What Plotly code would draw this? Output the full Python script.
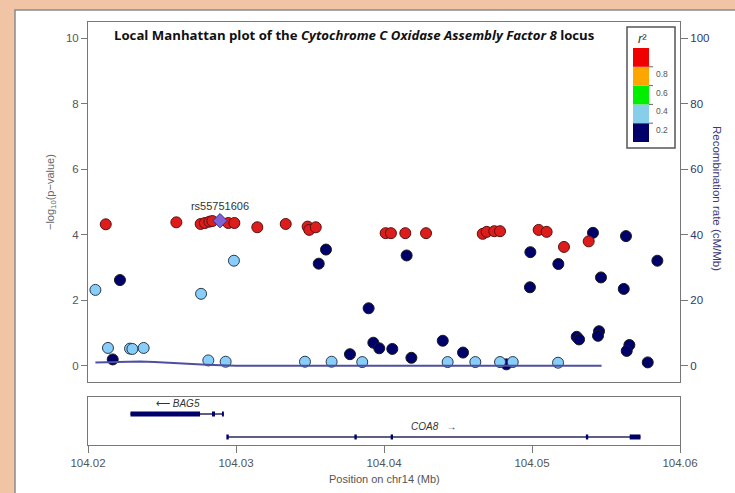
import plotly.graph_objects as go

# ---------------- data ----------------
# SNPs: position (Mb) and -log10(p), grouped by r^2 class
navy_pos = [104.02167, 104.02216, 104.0377, 104.03559, 104.03608, 104.03896, 104.03928, 104.03968,
            104.04056, 104.04153, 104.04185, 104.04397, 104.04534, 104.04827, 104.04989, 104.04986,
            104.05178, 104.05302, 104.05318, 104.05412, 104.05453, 104.05446, 104.05466, 104.0562,
            104.05635, 104.05658, 104.0564, 104.05782, 104.05847]
navy_p = [0.20, 2.62, 0.36, 3.12, 3.55, 1.76, 0.71, 0.54,
          0.52, 3.37, 0.25, 0.77, 0.41, 0.05, 3.47, 2.40,
          3.11, 0.89, 0.81, 4.06, 1.06, 0.92, 2.70, 2.35,
          3.96, 0.64, 0.46, 0.11, 3.21]

lblue_pos = [104.0205, 104.02135, 104.02284, 104.0230, 104.02376, 104.02764, 104.02986, 104.02813,
             104.0293, 104.03466, 104.03646, 104.03853, 104.0443, 104.04617, 104.04784, 104.0487,
             104.05176]
lblue_p = [2.32, 0.55, 0.53, 0.52, 0.55, 2.20, 3.21, 0.17,
           0.13, 0.13, 0.13, 0.12, 0.12, 0.12, 0.12, 0.12,
           0.10]

red_pos = [104.0212, 104.02597, 104.02761, 104.0279, 104.0282, 104.0284, 104.02948, 104.02989,
           104.03144, 104.03336, 104.03484, 104.03495, 104.03539, 104.04011, 104.04047, 104.04144,
           104.04284, 104.04667, 104.04694, 104.04745, 104.04784, 104.05045, 104.05099, 104.05216,
           104.05383]
red_p = [4.32, 4.38, 4.33, 4.36, 4.40, 4.42, 4.36, 4.36,
         4.23, 4.33, 4.25, 4.15, 4.23, 4.05, 4.05, 4.05,
         4.05, 4.03, 4.09, 4.11, 4.11, 4.15, 4.09, 3.63,
         3.80]

lead_snp = "rs55751606"
lead_pos = [104.02892]
lead_p = [4.43]

# recombination rate (cM/Mb)
rec_pos = [104.0205, 104.0215, 104.0225, 104.0235, 104.0245, 104.0260, 104.0280, 104.0300, 104.0547]
rec_rate = [1.1, 1.2, 1.3, 1.4, 1.2, 0.8, 0.4, 0.1, 0.1]

# genes
gene_names = ["BAG5", "COA8"]
gene_strand = ["-", "+"]
gene_start = [104.02287, 104.02943]
gene_end = [104.02918, 104.05733]
gene_row = [0.646, 0.167]
gene_exons = [
    [(104.02287, 104.02757), (104.02838, 104.02858), (104.02905, 104.02918)],
    [(104.02935, 104.02951), (104.03800, 104.03816), (104.04045, 104.04061),
     (104.05364, 104.05380), (104.05660, 104.05733)],
]
gene_label_pos = [104.02610, 104.04340]

legend_breaks = [0.0, 0.2, 0.4, 0.6, 0.8, 1.0]
legend_colors = ["#00006b", "#87ceeb", "#00ee00", "#ffa500", "#f00000"]
legend_ticks = ["0.2", "0.4", "0.6", "0.8"]

x_ticks = [104.02, 104.03, 104.04, 104.05, 104.06]
y_ticks = [0, 2, 4, 6, 8, 10]
rec_ticks = [0, 20, 40, 60, 80, 100]

# ---------------- layout helpers ----------------
W, H = 735, 493
L, R, T, B = 88, 680, 22, 445


def fx(px):
    return (px - L) / (R - L)


def fy(py):
    return (B - py) / (B - T)


main_bottom_px = 382
gene_top_px = 397

fig = go.Figure()

# recombination line on secondary axis
fig.add_trace(go.Scatter(x=rec_pos, y=rec_rate, mode="lines", yaxis="y2", xaxis="x",
                         line=dict(color="#4f4f9f", width=2), hoverinfo="skip"))

mk_line = dict(color="#1a1a1a", width=1)
fig.add_trace(go.Scatter(x=navy_pos, y=navy_p, mode="markers",
                         marker=dict(size=11, color="#00006b", line=mk_line)))
fig.add_trace(go.Scatter(x=lblue_pos, y=lblue_p, mode="markers",
                         marker=dict(size=11, color="#87cefa", line=dict(color="#2a3a4a", width=1))))
fig.add_trace(go.Scatter(x=red_pos, y=red_p, mode="markers",
                         marker=dict(size=11, color="#dd1c1c", line=dict(color="#5a1010", width=1))))
fig.add_trace(go.Scatter(x=lead_pos, y=lead_p, mode="markers+text", text=[lead_snp],
                         textposition="top center", textfont=dict(family="Liberation Sans", size=11, color="#333"),
                         marker=dict(size=11, symbol="diamond", color="#7f62d6", line=dict(color="#3a2a7a", width=1))))

# genes
for i, g in enumerate(gene_names):
    yr = gene_row[i]
    fig.add_trace(go.Scatter(x=[gene_start[i], gene_end[i]], y=[yr, yr], mode="lines",
                             xaxis="x2", yaxis="y3", line=dict(color="#2a2a5a", width=1.3),
                             hoverinfo="skip"))
    for (a, b) in gene_exons[i]:
        fig.add_trace(go.Scatter(x=[a, b], y=[yr, yr], mode="lines", xaxis="x2", yaxis="y3",
                                 line=dict(color="#00006b", width=5), hoverinfo="skip"))
    arrow = "\u27f5 " if gene_strand[i] == "-" else ""
    arrow_r = "   \u2192" if gene_strand[i] == "+" else ""
    fig.add_annotation(x=gene_label_pos[i], y=yr, xref="x2", yref="y3", yshift=10,
                       text=f"{arrow}<i>{g}</i>{arrow_r}", showarrow=False,
                       font=dict(family="Liberation Sans", size=10, color="#333"))

axis_col = "#777"
tick_font = dict(family="Liberation Sans", size=11.5, color="#555")

fig.update_layout(
    width=W, height=H,
    margin=dict(l=L, r=W - R, t=T, b=H - B, autoexpand=False),
    paper_bgcolor="#f2c4a6",
    plot_bgcolor="white",
    showlegend=False,
    hovermode=False,
    xaxis=dict(range=[104.02, 104.06], domain=[0, 1], anchor="y", showline=True, mirror=True,
               linecolor=axis_col, linewidth=1, showticklabels=False, ticks="", showgrid=False,
               zeroline=False),
    yaxis=dict(range=[-0.488, 10.488], domain=[fy(main_bottom_px), 1], anchor="x",
               tickvals=y_ticks, ticks="outside", ticklen=6, tickcolor=axis_col,
               showline=True, mirror=True, linecolor=axis_col, showgrid=False, zeroline=False,
               tickfont=tick_font),
    yaxis2=dict(range=[-4.88, 104.88], overlaying="y", side="right", anchor="x",
                tickvals=rec_ticks, ticks="outside", ticklen=7, tickcolor=axis_col,
                showline=True, linecolor=axis_col, showgrid=False, zeroline=False,
                tickfont=dict(family="Liberation Sans", size=11.5, color="#35356a")),
    xaxis2=dict(range=[104.02, 104.06], domain=[0, 1], anchor="y3", tickvals=x_ticks,
                ticktext=[f"{v:.2f}" for v in x_ticks], ticks="outside", ticklen=7,
                tickcolor=axis_col, showline=True, mirror=True, linecolor=axis_col,
                showgrid=False, zeroline=False, tickfont=dict(family="Liberation Sans", size=11.5, color="#555")),
    yaxis3=dict(range=[0, 1], domain=[0, fy(gene_top_px)], anchor="x2", showline=True, mirror=True,
                linecolor=axis_col, showticklabels=False, ticks="", showgrid=False, zeroline=False),
)

# white panel behind the figure
fig.add_shape(type="rect", xref="paper", yref="paper", x0=fx(15), x1=fx(745), y0=fy(510), y1=fy(10),
              fillcolor="white", line=dict(color="#8a8a8a", width=1.5), layer="below")

# title
fig.add_annotation(xref="paper", yref="paper", x=fx(112), y=fy(35), xanchor="left", yanchor="middle",
                   showarrow=False,
                   text="<b>Local Manhattan plot of the <i>Cytochrome C Oxidase Assembly Factor 8</i> locus</b>",
                   font=dict(family="Open Sans", size=13.2, color="#111"))

# axis titles
fig.add_annotation(xref="paper", yref="paper", x=fx(42), y=fy(192), textangle=-90, showarrow=False,
                   text="\u2212log<sub>10</sub>(p\u2212value)",
                   font=dict(family="Liberation Sans", size=11, color="#666"))
fig.add_annotation(xref="paper", yref="paper", x=fx(725), y=fy(198), textangle=90, showarrow=False,
                   text="Recombination rate (cM/Mb)",
                   font=dict(family="Liberation Sans", size=11.5, color="#3a3a7a"))
fig.add_annotation(xref="paper", yref="paper", x=fx(384), y=fy(487), showarrow=False,
                   text="Position on chr14 (Mb)",
                   font=dict(family="Liberation Sans", size=11, color="#555"))

# r^2 legend
lx0, lx1, ly0, ly1 = 627, 675, 27, 148
fig.add_shape(type="rect", xref="paper", yref="paper", x0=fx(lx0), x1=fx(lx1), y0=fy(ly1), y1=fy(ly0),
              fillcolor="white", line=dict(color="#555", width=1.5))
bx0, bx1, by_bottom, by_top = 633, 649, 142, 48


def by(v):
    return by_bottom - v * (by_bottom - by_top)


for i, c in enumerate(legend_colors):
    fig.add_shape(type="rect", xref="paper", yref="paper", x0=fx(bx0), x1=fx(bx1),
                  y0=fy(by(legend_breaks[i])), y1=fy(by(legend_breaks[i + 1])),
                  fillcolor=c, line=dict(width=0))
for i, t in enumerate(legend_ticks):
    yy = by(legend_breaks[i + 1])
    fig.add_shape(type="line", xref="paper", yref="paper", x0=fx(bx1), x1=fx(bx1 + 4), y0=fy(yy), y1=fy(yy),
                  line=dict(color="#666", width=1))
    fig.add_annotation(xref="paper", yref="paper", x=fx(bx1 + 5), y=fy(yy), xanchor="left", showarrow=False,
                       text=t, font=dict(family="Liberation Sans", size=8.5, color="#555"))
fig.add_annotation(xref="paper", yref="paper", x=fx(642), y=fy(38), xanchor="center", yanchor="middle",
                   showarrow=False, text="<i>r</i>\u00b2",
                   font=dict(family="Liberation Sans", size=13, color="#333"))

fig.write_html("out.html", config={"displayModeBar": False},
               post_script="document.body.style.margin='0';document.body.style.padding='0';")
